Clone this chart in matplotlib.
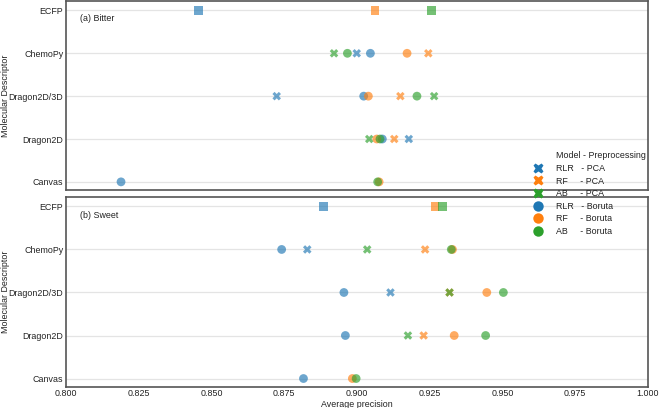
import matplotlib
matplotlib.use("Agg")
import matplotlib.pyplot as plt
from matplotlib.lines import Line2D
import numpy as np

plt.rcParams["font.family"] = ["Liberation Sans", "DejaVu Sans"]

nan = np.nan
descriptors = ["Canvas", "Dragon2D", "Dragon2D/3D", "ChemoPy", "ECFP"]
models = ["RLR", "RF", "AB"]
colors = ["#1f77b4", "#ff7f0e", "#2ca02c"]

# values per descriptor (Canvas, Dragon2D, Dragon2D/3D, ChemoPy); ECFP kept apart
bitter_pca = {
    "RLR": [nan, 0.9178, 0.8724, 0.8999],
    "RF":  [nan, 0.9128, 0.9149, 0.9245],
    "AB":  [nan, 0.9042, 0.9265, 0.8921],
}
bitter_boruta = {
    "RLR": [0.8189, 0.9087, 0.9023, 0.9046],
    "RF":  [0.9076, 0.9068, 0.9039, 0.9172],
    "AB":  [0.9071, 0.9079, 0.9206, 0.8967],
}
bitter_ecfp = [0.8455, 0.9062, 0.9257]

sweet_pca = {
    "RLR": [nan, nan, 0.9115, 0.8829],
    "RF":  [nan, 0.9229, 0.9318, 0.9234],
    "AB":  [nan, 0.9175, 0.9318, 0.9035],
}
sweet_boruta = {
    "RLR": [0.8816, 0.8960, 0.8955, 0.8741],
    "RF":  [0.8984, 0.9334, 0.9446, 0.9328],
    "AB":  [0.8997, 0.9442, 0.9503, 0.9324],
}
sweet_ecfp = [0.8884, 0.9268, 0.9293]

xticks = [0.800, 0.825, 0.850, 0.875, 0.900, 0.925, 0.950, 0.975, 1.000]

FS = 6.4
TXT = "#222222"

fig = plt.figure(figsize=(6.59, 4.08), dpi=100)
ax_top = fig.add_axes([0.1002, 0.5343, 0.8831, 0.4632])
ax_bot = fig.add_axes([0.1002, 0.0522, 0.8831, 0.4650])


def draw_panel(ax, pca, boruta, ecfp, title, show_x):
    y = np.arange(len(descriptors) - 1)
    for m, c in zip(models, colors):
        ax.scatter(pca[m], y, marker="X", s=38, color=c, alpha=0.65,
                   edgecolor="none", zorder=3)
    for m, c in zip(models, colors):
        ax.scatter(boruta[m], y, marker="o", s=40, color=c, alpha=0.65,
                   edgecolor="none", zorder=3)
    for v, c in zip(ecfp, colors):
        ax.scatter([v], [len(descriptors) - 1], marker="s", s=40, color=c,
                   alpha=0.65, edgecolor="none", zorder=3)
    ax.set_xlim(0.8, 1.0)
    ax.set_ylim(-0.19, 4.22)
    ax.set_yticks(range(len(descriptors)))
    ax.set_yticklabels(descriptors, fontsize=FS, color=TXT)
    ax.set_xticks(xticks)
    if show_x:
        ax.set_xticklabels([f"{t:.3f}" for t in xticks], fontsize=FS, color=TXT)
        ax.set_xlabel("Average precision", fontsize=FS, color=TXT, labelpad=1)
    else:
        ax.set_xticklabels([])
    ax.tick_params(length=0, pad=2)
    ax.grid(axis="y", color="#e4e4e4", linewidth=0.9, zorder=0)
    ax.set_axisbelow(True)
    for sp in ax.spines.values():
        sp.set_color("#555555")
        sp.set_linewidth(1.2)
    ax.set_ylabel("Molecular Descriptor", fontsize=FS, color=TXT)
    ax.yaxis.set_label_coords(-0.097, 0.5)
    ax.text(0.024, 0.905, title, transform=ax.transAxes, fontsize=FS,
            va="center", color=TXT)


draw_panel(ax_top, bitter_pca, bitter_boruta, bitter_ecfp, "(a) Bitter", False)
draw_panel(ax_bot, sweet_pca, sweet_boruta, sweet_ecfp, "(b) Sweet", True)

# seaborn-style legend: the title sits in the label column with a blank handle
handles = [Line2D([], [], linestyle="none")]
handles += [Line2D([], [], linestyle="none", marker="X", markersize=7.5,
                   color=c, markeredgecolor="none") for c in colors]
handles += [Line2D([], [], linestyle="none", marker="o", markersize=7.5,
                   color=c, markeredgecolor="none") for c in colors]
labels = ["Model - Preprocessing",
          "RLR   - PCA", "RF     - PCA", "AB     - PCA",
          "RLR   - Boruta", "RF     - Boruta", "AB     - Boruta"]
leg = fig.legend(handles, labels, loc="upper left",
                 bbox_to_anchor=(0.796, 0.644), frameon=False, fontsize=FS,
                 labelspacing=0.4, handletextpad=1.2, borderpad=0.2,
                 handlelength=1.6)
for t in leg.get_texts():
    t.set_color(TXT)

fig.savefig("out.png", dpi=100)
